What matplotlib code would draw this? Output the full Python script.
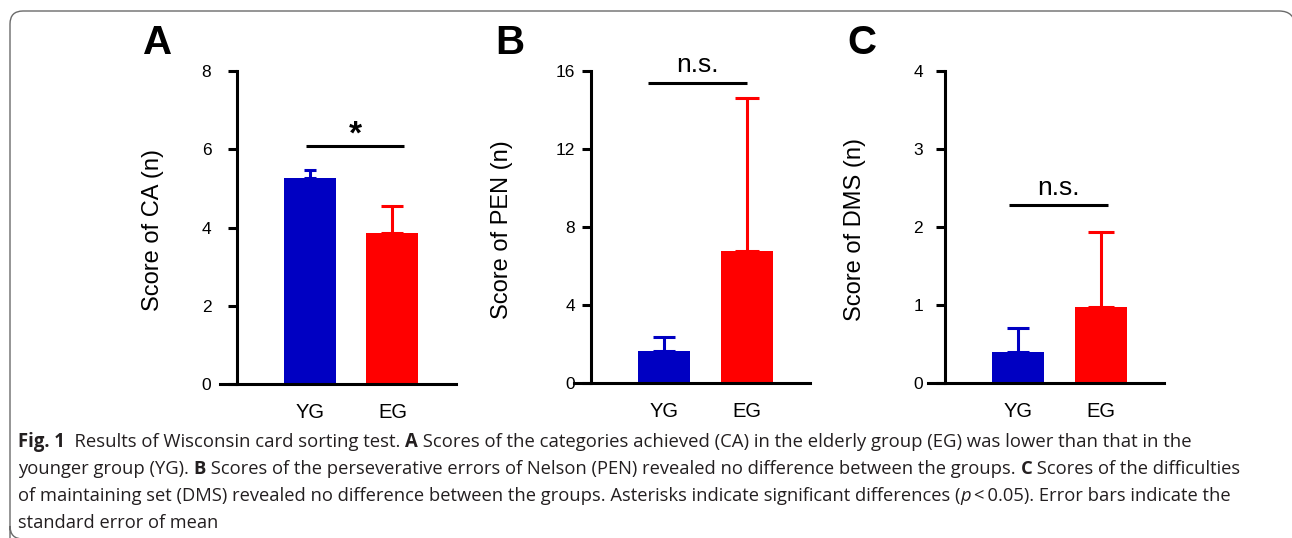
import matplotlib
matplotlib.use("Agg")
import matplotlib.pyplot as plt
from matplotlib.patches import PathPatch
from matplotlib.path import Path
from matplotlib.transforms import IdentityTransform

# ---------------- data ----------------
groups = ["YG", "EG"]
ca_mean = [5.27, 3.86]
ca_sem = [0.20, 0.69]
pen_mean = [1.64, 6.77]
pen_sem = [0.72, 7.85]
dms_mean = [0.40, 0.98]
dms_sem = [0.31, 0.96]
panel_means = [ca_mean, pen_mean, dms_mean]
panel_sems = [ca_sem, pen_sem, dms_sem]
ylabels = ["Score of CA (n)", "Score of PEN (n)", "Score of DMS (n)"]
ymax = [8, 16, 4]
yticks = [[0, 2, 4, 6, 8], [0, 4, 8, 12, 16], [0, 1, 2, 3, 4]]
panel_letters = ["A", "B", "C"]
sig_labels = ["*", "n.s.", "n.s."]
sig_levels = [6.08, 15.4, 2.28]

caption_lines = [
    [("Fig. 1", "bold", "normal"), ("  Results of Wisconsin card sorting test. ", "normal", "normal"),
     ("A", "bold", "normal"),
     (" Scores of the categories achieved (CA) in the elderly group (EG) was lower than that in the", "normal", "normal")],
    [("younger group (YG). ", "normal", "normal"), ("B", "bold", "normal"),
     (" Scores of the perseverative errors of Nelson (PEN) revealed no difference between the groups. ", "normal", "normal"),
     ("C", "bold", "normal"), (" Scores of the difficulties", "normal", "normal")],
    [("of maintaining set (DMS) revealed no difference between the groups. Asterisks indicate significant differences (", "normal", "normal"),
     ("p", "normal", "italic"), ("\u2009<\u20090.05). Error bars indicate the", "normal", "normal")],
    [("standard error of mean", "normal", "normal")],
]

# ---------------- style ----------------
W, H = 1292, 538
colors = ["#0000C2", "#FF0000"]
spine_px = [237, 591, 945]
bottom_px = [384, 383, 383]
top_px = 71
spacing = 82.5
ax_w = 236
bar_w = 52 / spacing
capsizes = [[4.3, 7.6], [7.9, 8.6], [8.2, 9.3]]
sig_x = [(-0.05, 1.145), (-0.195, 1.0), (-0.11, 1.09)]
ylab_x = [153, 502, 855]
letter_x = [158, 510, 862]
tick_pad = [18.5, 11.5, 15.8]
lw = 2.2

plt.rcParams["font.family"] = ["Liberation Sans", "DejaVu Sans"]
fig = plt.figure(figsize=(W / 100, H / 100), dpi=100)

for i in range(3):
    left = spine_px[i] - 17
    ax = fig.add_axes([left / W, 1 - bottom_px[i] / H, ax_w / W, (bottom_px[i] - top_px) / H])
    x0 = -(73 + 17) / spacing
    ax.set_xlim(x0, x0 + ax_w / spacing)
    ax.set_ylim(0, ymax[i])
    xs = list(range(len(groups)))
    ax.bar(xs, panel_means[i], width=bar_w, color=colors, zorder=2)
    for j in xs:
        ax.errorbar(j, panel_means[i][j], yerr=[[0], [panel_sems[i][j]]], fmt="none",
                    ecolor=colors[j], elinewidth=lw, capsize=capsizes[i][j], capthick=lw,
                    zorder=1)
    for s in ["top", "right"]:
        ax.spines[s].set_visible(False)
    ax.spines["left"].set_position(("data", -73 / spacing))
    ax.spines["left"].set_linewidth(lw)
    ax.spines["bottom"].set_linewidth(lw)
    ax.set_yticks(yticks[i])
    ax.set_xticks(xs)
    ax.set_xticklabels(groups, fontsize=14.5)
    ax.tick_params(axis="x", length=0, pad=13.5)
    ax.tick_params(axis="y", length=6.5, width=lw, labelsize=12.5, pad=tick_pad[i] - 6.5)
    ax.patch.set_visible(False)
    # significance
    ax.plot(sig_x[i], [sig_levels[i]] * 2, color="black", lw=lw, solid_capstyle="butt",
            clip_on=False)
    xm = (sig_x[i][0] + sig_x[i][1]) / 2
    if sig_labels[i] == "*":
        ax.annotate("*", (xm, sig_levels[i]), xytext=(0, -3), textcoords="offset points",
                    ha="center", va="bottom", fontsize=24, fontweight="bold",
                    annotation_clip=False)
    else:
        ax.annotate(sig_labels[i], (xm, sig_levels[i]), xytext=(0, 4), textcoords="offset points",
                    ha="center", va="bottom", fontsize=19, annotation_clip=False)
    fig.text(ylab_x[i] / W, 1 - 230 / H, ylabels[i], rotation=90, ha="center", va="center",
             fontsize=17)
    fig.text(letter_x[i] / W, 1 - 43 / H, panel_letters[i], ha="center", va="center",
             fontsize=29, fontweight="bold")

# border: left and top sides of a rounded frame (pixel coords, y up)
yt = H - 11
r = 13
verts = [(10, -10), (10, r - 1), (10, -1), (10 + r, -1),
         (10, -1 + r), (10, yt - r), (10, yt), (10 + r, yt),
         (1279, yt), (1295, yt), (1295, yt - 16)]
codes = [Path.MOVETO, Path.LINETO, Path.CURVE3, Path.CURVE3,
         Path.MOVETO, Path.LINETO, Path.CURVE3, Path.CURVE3,
         Path.LINETO, Path.CURVE3, Path.CURVE3]
frame = PathPatch(Path(verts, codes), transform=IdentityTransform(), fill=False,
                  edgecolor="#6a6a6a", linewidth=1.0)
fig.patches.append(frame)

# caption with mixed runs
cap_font = ["Open Sans", "DejaVu Sans"]
baselines = [447, 474, 501, 528]
line_ends = [1188, 1237, 1227, 217]
renderer = fig.canvas.get_renderer()


def run_width(s, weight, style, size):
    t = fig.text(0, 0, "|" + s + "|", fontsize=size, fontweight=weight, fontstyle=style,
                 family=cap_font)
    w1 = t.get_window_extent(renderer).width
    t.remove()
    t = fig.text(0, 0, "||", fontsize=size, fontweight=weight, fontstyle=style, family=cap_font)
    w2 = t.get_window_extent(renderer).width
    t.remove()
    return w1 - w2


for li, runs in enumerate(caption_lines):
    base = 12.0
    w = sum(run_width(s, wt, st, base) for s, wt, st in runs)
    size = base * (line_ends[li] - 18) / w
    x = 18
    for s, wt, st in runs:
        fig.text(x / W, 1 - baselines[li] / H, s, fontsize=size, fontweight=wt,
                 fontstyle=st, family=cap_font, ha="left", va="baseline", color="#231f20")
        x += run_width(s, wt, st, size)

fig.savefig("out.png", dpi=100)
